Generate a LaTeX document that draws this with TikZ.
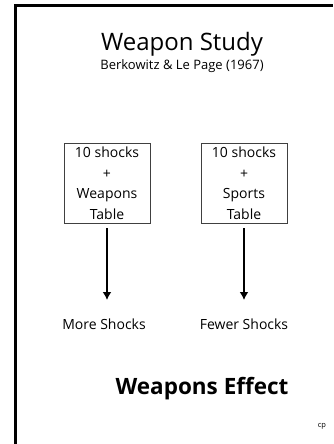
\documentclass[tikz,border=0pt]{standalone}
\usepackage{fontspec}
\setmainfont{Open Sans}
\usetikzlibrary{arrows.meta}

\begin{document}
\begin{tikzpicture}[x=1pt,y=1pt,
  shockbox/.style={draw=black!75,line width=0.9pt,minimum width=86pt,minimum height=80pt,
    align=center,inner sep=2pt,font=\fontsize{14}{20.5}\selectfont},
  result/.style={font=\fontsize{14}{15}\selectfont},
  down/.style={-{Latex[length=8pt,width=9pt]},line width=2.2pt,shorten <=5pt}]
\useasboundingbox (0,0) rectangle (333,-444);

%%%frame
\draw[-,line width=3pt] (15,-444)--(15,-6)--(333,-6);

%%%heading
\node (title) at (182,-44) {\fontsize{24}{26}\selectfont Weapon Study};
\node (authors) at (182,-66) {\fontsize{13}{14}\selectfont Berkowitz \& Le Page (1967)};

%%%conditions
\node[shockbox] (wbox) at (107,-183) {10 shocks\\+\\Weapons\\Table};
\node[shockbox] (sbox) at (244,-183) {10 shocks\\+\\Sports\\Table};

\coordinate (wend) at (107,-300);
\coordinate (send) at (244,-300);
\draw[down] (wbox.south) -- (wend);
\draw[down] (sbox.south) -- (send);

%%%outcomes
\node[result] (more) at (104,-324) {More Shocks};
\node[result] (fewer) at (244,-324) {Fewer Shocks};

\node (effect) at (202,-389) {\fontsize{22.5}{24}\selectfont\bfseries Weapons Effect};
\node (cp) at (322,-426) {\fontsize{7.5}{8}\selectfont cp};

\end{tikzpicture}
\end{document}
